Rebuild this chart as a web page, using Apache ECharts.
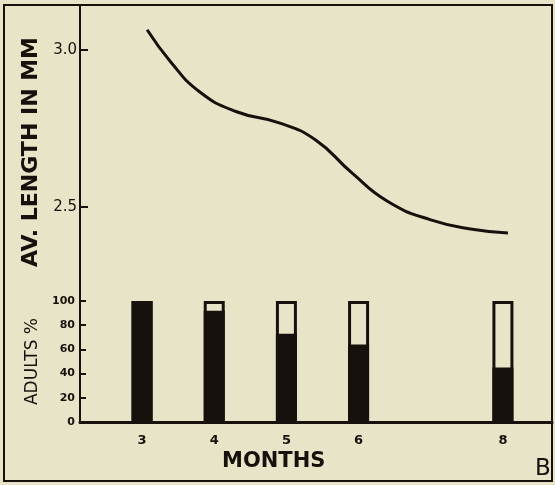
<!DOCTYPE html>
<html>
<head>
<meta charset="utf-8">
<script src="https://cdn.jsdelivr.net/npm/echarts@6/dist/echarts.min.js"></script>
<style>
html,body{margin:0;padding:0;background:#e8e4c8;}
#chart{width:555px;height:485px;}
</style>
</head>
<body>
<div id="chart"></div>
<script>
// ---- data ----
const months = [3, 4, 5, 6, 8];
const adultPct = [100, 92, 73, 64, 45];
const totalPct = [100, 100, 100, 100, 100];
const curveMonth  = [3.07, 3.4, 3.8, 4.3, 4.9, 5.4, 5.9, 6.4, 7.0, 7.6, 8.07];
const curveLength = [3.064, 2.961, 2.866, 2.804, 2.768, 2.714, 2.610, 2.518, 2.459, 2.428, 2.417];
const lengthTicks = [2.5, 3.0];
const pctTicks = [0, 20, 40, 60, 80, 100];

const INK = '#16110d';
const BG = '#e8e4c8';
const FONT = 'DejaVu Sans';

const chart = echarts.init(document.getElementById('chart'), null, {renderer: 'canvas'});
const curveData = curveMonth.map((m, i) => [m, curveLength[i]]);
const adultData = months.map((m, i) => [m, adultPct[i]]);
const totalData = months.map((m, i) => [m, totalPct[i]]);

const hidden = {show: false, min: 0, max: 1};

chart.setOption({
  backgroundColor: BG,
  animation: false,
  textStyle: {fontFamily: FONT, color: INK},
  title: [
    {text: 'MONTHS', left: 222, top: 451, padding: 0,
     textStyle: {fontFamily: FONT, fontSize: 21, fontWeight: 'bold', color: INK}},
    {text: 'B', left: 535, top: 458, padding: 0,
     textStyle: {fontFamily: FONT, fontSize: 23, fontWeight: 'normal', color: INK}}
  ],
  grid: [
    {left: 4, top: 5, right: 3, bottom: 4, show: true, borderColor: INK, borderWidth: 2, backgroundColor: 'transparent'},
    {left: 80, top: 5, right: 3, bottom: 186, show: false},
    {left: 80, top: 301, right: 3, bottom: 63, show: false},
    {left: 80, top: 5, right: 3, bottom: 63, show: true, borderColor: INK, borderWidth: 2, backgroundColor: 'transparent'}
  ],
  xAxis: [
    Object.assign({gridIndex: 0, type: 'value'}, hidden),
    {gridIndex: 1, type: 'value', min: 2.14, max: 8.68, show: false},
    {gridIndex: 2, type: 'value', min: 2.14, max: 8.68,
     axisLine: {show: true, lineStyle: {color: INK, width: 3}},
     axisTick: {show: false},
     splitLine: {show: false},
     axisLabel: {customValues: months, margin: 12, fontFamily: FONT, fontSize: 13, fontWeight: 'bold', color: INK}},
    Object.assign({gridIndex: 3, type: 'value'}, hidden)
  ],
  yAxis: [
    Object.assign({gridIndex: 0, type: 'value'}, hidden),
    {gridIndex: 1, type: 'value', min: 2.207, max: 3.143,
     name: 'AV. LENGTH IN MM', nameLocation: 'middle', nameGap: 35,
     nameTextStyle: {fontFamily: FONT, fontSize: 22, fontWeight: 'bold', color: INK},
     axisLine: {show: true, lineStyle: {color: INK, width: 2}},
     axisTick: {show: true, inside: true, length: 8, customValues: lengthTicks, lineStyle: {color: INK, width: 2}},
     splitLine: {show: false},
     axisLabel: {customValues: lengthTicks, margin: 3, fontFamily: FONT, fontSize: 15, color: INK,
                 formatter: v => v.toFixed(1)}},
    {gridIndex: 2, type: 'value', min: 0, max: 100,
     name: 'ADULTS %', nameLocation: 'middle', nameGap: 30,
     nameTextStyle: {fontFamily: FONT, fontSize: 17, color: INK},
     axisLine: {show: true, lineStyle: {color: INK, width: 2}},
     axisTick: {show: true, inside: true, length: 6, customValues: pctTicks, lineStyle: {color: INK, width: 2}},
     splitLine: {show: false},
     axisLabel: {customValues: pctTicks, margin: 5, fontFamily: FONT, fontSize: 11, fontWeight: 'bold', color: INK}},
    Object.assign({gridIndex: 3, type: 'value'}, hidden)
  ],
  series: [
    {type: 'line', xAxisIndex: 1, yAxisIndex: 1, data: curveData, smooth: 0.5,
     showSymbol: false, lineStyle: {color: INK, width: 3}},
    {type: 'bar', xAxisIndex: 2, yAxisIndex: 2, data: totalData, barWidth: 21, barGap: '-100%',
     itemStyle: {color: BG, borderColor: INK, borderWidth: 3}},
    {type: 'bar', xAxisIndex: 2, yAxisIndex: 2, data: adultData, barWidth: 21, barGap: '-100%',
     itemStyle: {color: INK, borderColor: INK, borderWidth: 3}}
  ]
});
</script>
</body>
</html>
